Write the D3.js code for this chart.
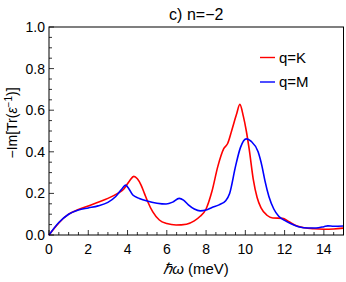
<!DOCTYPE html>
<html>
<head>
<meta charset="utf-8">
<script src="https://cdn.jsdelivr.net/npm/d3@7"></script>
<style>
  body { margin: 0; background: #fff; }
  text { font-family: "Liberation Sans", Arial, sans-serif; fill: #000; }
</style>
</head>
<body>
<div id="chart"></div>
<script>
// energies (meV) and -Im[Tr(eps^-1)]
const kEnergy = [0, 0.25, 0.5, 1, 1.5, 2, 2.5, 3, 3.5, 3.8, 4.1, 4.32, 4.5, 4.69, 4.86, 5.03, 5.28, 5.62, 6.0, 6.47, 7.0, 7.4, 7.7, 8.0, 8.3, 8.6, 8.9, 9.1, 9.3, 9.55, 9.72, 9.9, 10.05, 10.2, 10.4, 10.6, 10.8, 11.1, 11.4, 11.9, 12.2, 12.6, 13.0, 13.5, 14, 14.5, 15];
const kValue = [0, 0.03, 0.058, 0.1, 0.123, 0.14, 0.158, 0.176, 0.2, 0.22, 0.26, 0.282, 0.27, 0.24, 0.2, 0.16, 0.112, 0.072, 0.055, 0.048, 0.052, 0.068, 0.09, 0.125, 0.21, 0.33, 0.415, 0.44, 0.5, 0.58, 0.628, 0.57, 0.5, 0.41, 0.27, 0.18, 0.13, 0.095, 0.082, 0.08, 0.065, 0.045, 0.035, 0.03, 0.028, 0.029, 0.033];

const mEnergy = [0, 0.5, 1, 1.5, 2, 2.5, 3, 3.4, 3.7, 3.9, 4.05, 4.27, 4.6, 5.0, 5.5, 5.96, 6.3, 6.63, 6.85, 7.1, 7.4, 7.7, 8.0, 8.3, 8.66, 9.0, 9.2, 9.5, 9.75, 10.05, 10.3, 10.65, 10.85, 11.0, 11.2, 11.45, 11.7, 12.0, 12.3, 12.7, 13.2, 13.6, 14.0, 14.2, 14.5, 15];
const mValue = [0, 0.06, 0.1, 0.12, 0.13, 0.14, 0.157, 0.185, 0.22, 0.24, 0.225, 0.192, 0.176, 0.163, 0.153, 0.149, 0.158, 0.176, 0.168, 0.145, 0.125, 0.116, 0.12, 0.132, 0.145, 0.165, 0.2, 0.33, 0.42, 0.462, 0.45, 0.4, 0.33, 0.26, 0.185, 0.125, 0.09, 0.07, 0.055, 0.04, 0.034, 0.034, 0.04, 0.044, 0.042, 0.043];

const seriesLabels = ["q=K", "q=M"];
const seriesColors = ["#ff0000", "#0000ff"];
const xTicks = [0, 2, 4, 6, 8, 10, 12, 14];
const yTicks = [0, 0.2, 0.4, 0.6, 0.8, 1.0];

const width = 346, height = 282;
const margin = { top: 27, right: 2, bottom: 47, left: 49 };

const svg = d3.select("#chart").append("svg")
    .attr("width", width)
    .attr("height", height);

const x = d3.scaleLinear().domain([0, 15]).range([margin.left, width - margin.right - 0.5]);
const y = d3.scaleLinear().domain([0, 1]).range([height - margin.bottom, margin.top]);

// minor + major ticks pointing into the frame
const xMinor = d3.range(0, 15.01, 0.5);
const yMinor = d3.range(0, 1.001, 0.05);

svg.append("g").selectAll("line")
    .data(xMinor)
    .enter().append("line")
    .attr("x1", d => x(d)).attr("x2", d => x(d))
    .attr("y1", y(0)).attr("y2", d => y(0) - (Math.abs(d % 2) < 1e-6 ? 5 : 3))
    .attr("stroke", "#000").attr("stroke-width", 0.8);

svg.append("g").selectAll("line")
    .data(yMinor)
    .enter().append("line")
    .attr("y1", d => y(d)).attr("y2", d => y(d))
    .attr("x1", x(0)).attr("x2", d => x(0) + (Math.abs(Math.round(d * 100) % 20) < 1e-6 ? 5 : 3))
    .attr("stroke", "#000").attr("stroke-width", 0.8);

svg.append("g").selectAll("text")
    .data(xTicks)
    .enter().append("text")
    .attr("x", d => x(d))
    .attr("y", y(0) + 19)
    .attr("text-anchor", "middle")
    .attr("font-size", 14)
    .text(d => d);

svg.append("g").selectAll("text")
    .data(yTicks)
    .enter().append("text")
    .attr("x", x(0) - 4)
    .attr("y", d => y(d) + 5)
    .attr("text-anchor", "end")
    .attr("font-size", 14)
    .text(d => d.toFixed(1));

// curves
const line = d3.line()
    .x(d => x(d[0]))
    .y(d => y(d[1]))
    .curve(d3.curveMonotoneX);

const series = [
    d3.zip(kEnergy, kValue),
    d3.zip(mEnergy, mValue)
];

svg.append("g").selectAll("path")
    .data(series)
    .enter().append("path")
    .attr("d", line)
    .attr("fill", "none")
    .attr("stroke", (d, i) => seriesColors[i])
    .attr("stroke-width", 1.6);

// frame
svg.append("rect")
    .attr("x", x(0)).attr("y", y(1))
    .attr("width", x(15) - x(0))
    .attr("height", y(0) - y(1))
    .attr("fill", "none")
    .attr("stroke", "#000")
    .attr("stroke-width", 1);

// legend
const legend = svg.append("g").selectAll("g")
    .data(seriesLabels)
    .enter().append("g")
    .attr("transform", (d, i) => "translate(260," + (57.5 + i * 24.5) + ")");

legend.append("line")
    .attr("x1", 0).attr("x2", 15)
    .attr("stroke", (d, i) => seriesColors[i])
    .attr("stroke-width", 1.4);

legend.append("text")
    .attr("x", 19).attr("y", 5)
    .attr("font-size", 15)
    .text(d => d);

// title and axis labels
svg.append("text")
    .attr("x", (x(0) + x(15)) / 2)
    .attr("y", 20)
    .attr("text-anchor", "middle")
    .attr("font-size", 16)
    .text("c) n=\u22122");

const xl = svg.append("text")
    .attr("x", 196)
    .attr("y", 274)
    .attr("text-anchor", "middle")
    .attr("font-size", 15);
xl.append("tspan").attr("font-style", "italic").text("\u210F\u03C9");
xl.append("tspan").text(" (meV)");

const yl = svg.append("text")
    .attr("transform", "translate(17,123) rotate(-90)")
    .attr("text-anchor", "middle")
    .attr("font-size", 14);
yl.append("tspan").text("\u2212Im[Tr(");
yl.append("tspan").attr("font-style", "italic").text("\u03B5");
yl.append("tspan").attr("dy", -5).attr("font-size", 10).text("\u22121");
yl.append("tspan").attr("dy", 5).text(")]");
</script>
</body>
</html>
